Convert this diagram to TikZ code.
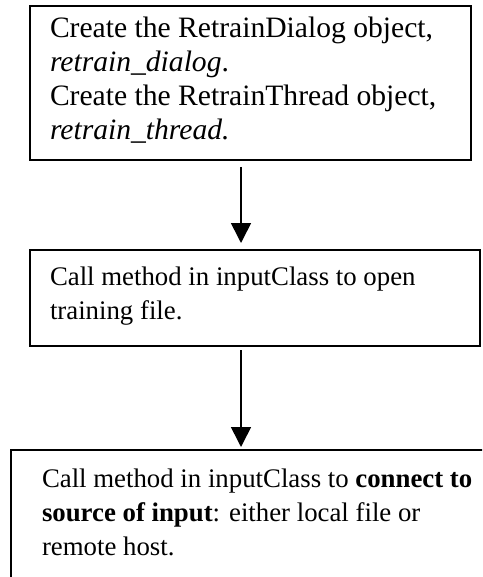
\documentclass[tikz,border=0pt]{standalone}
\usepackage{fontspec}
\setmainfont{Liberation Serif}
\usetikzlibrary{arrows.meta,calc}

\tikzset{
  stepbox/.style={draw=black, line width=1.8pt, fill=none, outer sep=0pt,
    inner sep=0pt, anchor=north west, rectangle},
  txt/.style={anchor=base west, inner sep=0pt, outer sep=0pt,
    font=\fontsize{29.6pt}{34pt}\selectfont},
  txtsmall/.style={txt, font=\fontsize{26.8pt}{31pt}\selectfont},
  flow/.style={line width=1.6pt, -{Triangle[length=20pt,width=20pt]}}
}

\begin{document}
\begin{tikzpicture}[x=1pt,y=-1pt]
  \useasboundingbox (0,0) rectangle (482,577);
  \clip (0,0) rectangle (482,577);

  % process boxes
  \node[stepbox, minimum width=441pt, minimum height=154pt] (b1) at (30,6) {};
  \node[stepbox, minimum width=450pt, minimum height=96pt]  (b2) at (30,250) {};
  \node[stepbox, minimum width=520pt, minimum height=160pt] (b3) at (11,450) {};

  % box texts, one node per line
  \node[txt] (t1a) at (50,38)  {Create the RetrainDialog object,};
  \node[txt] (t1b) at (50,72)  {\textit{retrain\_dialog}.};
  \node[txt] (t1c) at (50,106) {Create the RetrainThread object,};
  \node[txt] (t1d) at (50,140) {\textit{retrain\_thread.}};

  \node[txtsmall] (t2a) at (50,285) {Call method in inputClass to open};
  \node[txtsmall] (t2b) at (50,319) {training file.};

  \node[txtsmall] (t3a) at (42,487) {Call method in inputClass to \textbf{connect to}};
  \node[txtsmall] (t3b) at (42,521) {\textbf{source of input}: either local file or};
  \node[txtsmall] (t3c) at (42,555) {remote host.};

  % connectors
  \draw[flow] ($(b1.south west)+(211,7)$) -- ($(b2.north west)+(211,-7)$);
  \draw[flow] ($(b2.south west)+(211,4)$) -- ($(b3.north west)+(230,-3)$);
\end{tikzpicture}
\end{document}
